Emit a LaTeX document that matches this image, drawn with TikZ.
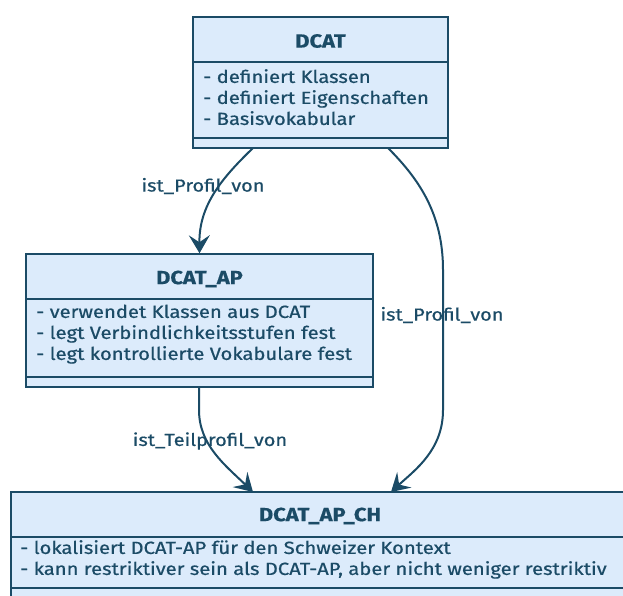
\documentclass[tikz,border=0pt]{standalone}
\usepackage{fontspec}
\setmainfont{Fira Sans}[FakeStretch=1.15, FakeBold=0.6]
\usetikzlibrary{arrows.meta}

\definecolor{classfill}{HTML}{DCEBFB}
\definecolor{classline}{HTML}{1B4B66}

\tikzstyle{classbox} = [draw=classline, fill=classfill, line width=1.5pt, inner sep=0pt]
\tikzstyle{classtitle} = [text=classline, font=\bfseries\fontsize{19}{22}\selectfont, inner sep=0pt]
\tikzstyle{classbody} = [text=classline, font=\fontsize{17.6}{21}\selectfont, align=left, inner sep=0pt, anchor=north west]
\tikzstyle{divider} = [draw=classline, line width=1.5pt]
\tikzstyle{relation} = [draw=classline, line width=2pt, -{Stealth[length=18pt, width=21pt, inset=7pt]}]
\tikzstyle{rellabel} = [text=classline, font=\fontsize{17.4}{20}\selectfont, inner sep=0pt]

\begin{document}
\begin{tikzpicture}[x=1pt, y=-1pt]
      \clip (0,0) rectangle (623,595);
      % classes
      \node[classbox, minimum width=255pt, minimum height=131pt] (dcat) at (320.5,82.5) {};
      \node[classbox, minimum width=347pt, minimum height=133pt] (dcatap) at (199.5,320.5) {};
      \node[classbox, minimum width=630pt, minimum height=110pt] (dcatapch) at (326,547) {};
      \draw[divider] (dcat.west |- 0,62) -- (dcat.east |- 0,62);
      \draw[divider] (dcat.west |- 0,138) -- (dcat.east |- 0,138);
      \draw[divider] (dcatap.west |- 0,299) -- (dcatap.east |- 0,299);
      \draw[divider] (dcatap.west |- 0,377) -- (dcatap.east |- 0,377);
      \draw[divider] (dcatapch.west |- 0,537) -- (dcatapch.east |- 0,537);
      \draw[divider] (dcatapch.west |- 0,588) -- (dcatapch.east |- 0,588);
      \node[classtitle] (dcatname) at (320.5,41) {DCAT};
      \node[classtitle] (dcatapname) at (199.5,279) {DCAT\_AP};
      \node[classtitle] (dcatapchname) at (320,516) {DCAT\_AP\_CH};
      \node[classbody] (dcatattr) at (203,69) {- definiert Klassen\\- definiert Eigenschaften\\- Basisvokabular};
      \node[classbody] (dcatapattr) at (36,304.5) {- verwendet Klassen aus DCAT\\- legt Verbindlichkeitsstufen fest\\- legt kontrollierte Vokabulare fest};
      \node[classbody] (dcatapchattr) at (20,540) {- lokalisiert DCAT-AP f\"ur den Schweizer Kontext\\- kann restriktiver sein als DCAT-AP, aber nicht weniger restriktiv};
      % relations
      \coordinate (p1) at (253,148);
      \coordinate (p2) at (388,148);
      \coordinate (p3) at (199,387);
      \draw[relation] (p1) .. controls (222,178) and (199,205) .. (dcatap.north);
      \draw[relation] (p2) .. controls (420,180) and (443,215) .. (443,270) -- (443,410) .. controls (443,450) and (415,470) .. (391,492);
      \draw[relation] (p3) -- (199,410) .. controls (199,445) and (225,465) .. (253,492);
      \node[rellabel] (lbl1) at (203,186) {ist\_Profil\_von};
      \node[rellabel] (lbl2) at (442,315) {ist\_Profil\_von};
      \node[rellabel] (lbl3) at (210,441) {ist\_Teilprofil\_von};
    \end{tikzpicture}
\end{document}
